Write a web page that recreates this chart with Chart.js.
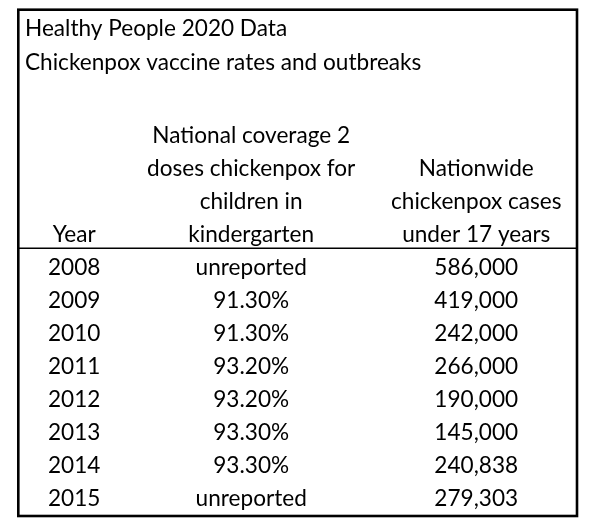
<!DOCTYPE html>
<html>
<head>
<meta charset="utf-8">
<script src="https://cdn.jsdelivr.net/npm/chart.js@4"></script>
<style>
  html, body { margin: 0; padding: 0; background: #fff; }
  #wrap { width: 600px; height: 531px; }
</style>
</head>
<body>
<div id="wrap"><canvas id="myChart"></canvas></div>
<script>
const titleLines = ['Healthy People 2020 Data', 'Chickenpox vaccine rates and outbreaks'];
const headerYear = ['Year'];
const headerCoverage = ['National coverage 2', 'doses chickenpox for', 'children in', 'kindergarten'];
const headerCases = ['Nationwide', 'chickenpox cases', 'under 17 years'];
const years = ['2008', '2009', '2010', '2011', '2012', '2013', '2014', '2015'];
const coverage = [null, 91.3, 91.3, 93.2, 93.2, 93.3, 93.3, null];
const cases = [586000, 419000, 242000, 266000, 190000, 145000, 240838, 279303];

// column centres on the hidden x scale (0..100)
const colPos = [8.9, 40.9, 81.6];
const FONT = 'Lato';
const FONT_SIZE = 22.6;

const coverageText = coverage.map(v => v === null ? 'unreported' : v.toFixed(2) + '%');
const casesText = cases.map(v => v.toLocaleString('en-US'));

// header lines sit on negative rows, bottom-aligned to row -1
function headerCells(lines, col) {
    return lines.map((t, i) => ({ x: colPos[col], y: i - lines.length, text: t }));
}
function bodyCells(texts, col) {
    return texts.map((t, i) => ({ x: colPos[col], y: i, text: t }));
}

const columns = [
    headerCells(headerYear, 0).concat(bodyCells(years, 0)),
    headerCells(headerCoverage, 1).concat(bodyCells(coverageText, 1)),
    headerCells(headerCases, 2).concat(bodyCells(casesText, 2))
];

const tableFrame = {
    id: 'tableFrame',
    afterDraw(chart) {
        const c = chart.ctx;
        const y = chart.scales.y;
        c.save();
        c.strokeStyle = '#000';
        c.lineWidth = 2.6;
        c.strokeRect(18.3, 9.7, 577 - 18.3, 516 - 9.7);
        c.lineWidth = 1.5;
        const sep = y.getPixelForValue(-0.6);
        c.beginPath();
        c.moveTo(18.3, sep);
        c.lineTo(577, sep);
        c.stroke();
        c.restore();
    }
};

const cellText = {
    id: 'cellText',
    afterDatasetsDraw(chart) {
        const c = chart.ctx;
        c.save();
        c.fillStyle = '#000';
        c.font = FONT_SIZE + 'px ' + FONT;
        c.textAlign = 'center';
        c.textBaseline = 'middle';
        chart.data.datasets.forEach((ds, i) => {
            const meta = chart.getDatasetMeta(i);
            meta.data.forEach((pt, j) => {
                c.fillText(ds.data[j].text, pt.x, pt.y);
            });
        });
        c.restore();
    }
};

const ctx = document.getElementById('myChart');
new Chart(ctx, {
    type: 'scatter',
    data: {
        datasets: columns.map(col => ({
            data: col,
            pointRadius: 0,
            pointHoverRadius: 0
        }))
    },
    options: {
        responsive: true,
        maintainAspectRatio: false,
        animation: false,
        events: [],
        layout: {
            padding: { left: 25, right: 22, top: 0, bottom: 15.5 }
        },
        scales: {
            x: { type: 'linear', min: 0, max: 100, display: false },
            y: { type: 'linear', min: -4.5, max: 7.5, reverse: true, display: false }
        },
        plugins: {
            legend: { display: false },
            tooltip: { enabled: false },
            title: {
                display: true,
                text: titleLines,
                align: 'start',
                color: '#000',
                font: { family: FONT, size: FONT_SIZE, weight: 'normal', lineHeight: 34 / FONT_SIZE },
                padding: { top: 12, bottom: 39.5 }
            }
        }
    },
    plugins: [tableFrame, cellText]
});
</script>
</body>
</html>
